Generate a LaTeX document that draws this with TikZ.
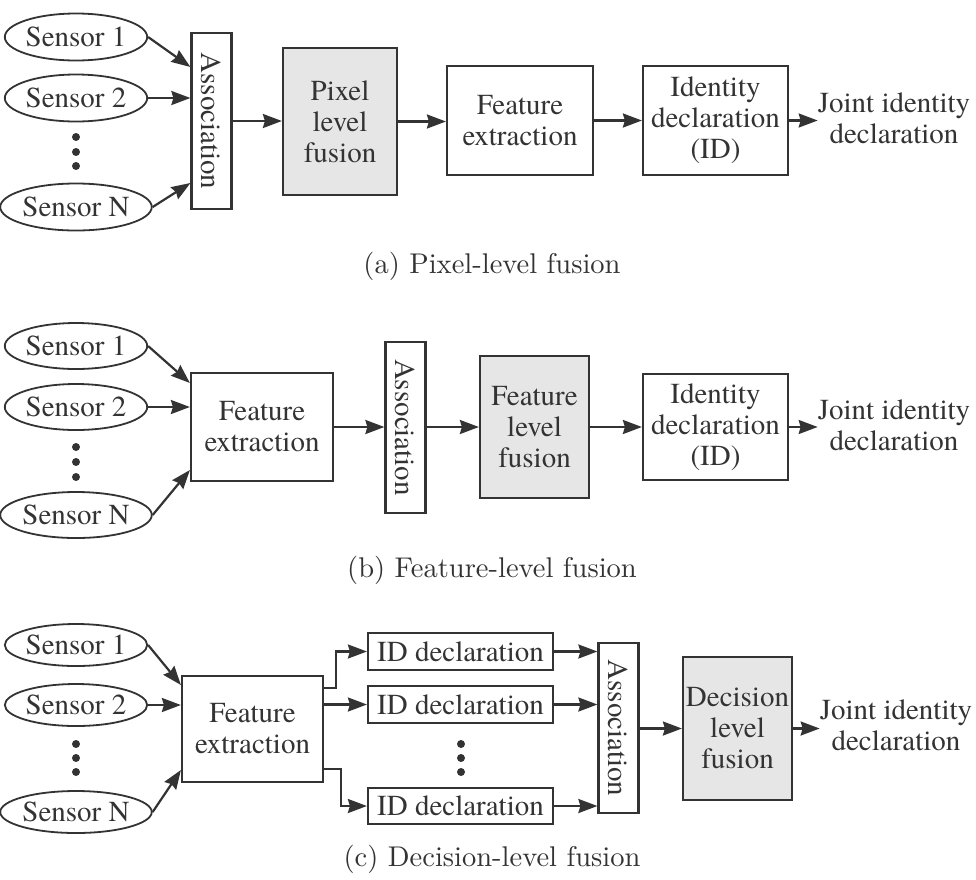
\documentclass[tikz,border=0pt]{standalone}
\usepackage{fontspec}
\newfontfamily\tnr{texgyretermes-regular.otf}
\newcommand\capfont{\fontencoding{TU}\fontfamily{lmr}\selectfont}
\usetikzlibrary{arrows.meta,shapes.geometric}
\definecolor{ink}{HTML}{333333}
\definecolor{fus}{HTML}{E6E6E6}
\tikzset{
  txt/.style={font=\tnr\fontsize{29pt}{31pt}\selectfont, text=ink, align=center, inner sep=0pt},
  box/.style={txt, draw=ink, line width=2.2pt, rectangle},
  fbox/.style={box, fill=fus},
  sens/.style={txt, draw=ink, line width=1.8pt, ellipse, minimum width=125pt},
  assoc/.style={box, rotate=-90, minimum height=40pt},
  arr/.style={draw=ink, line width=2.2pt, -{Stealth[length=19pt,width=14pt,inset=2pt]}},
  captxt/.style={font=\capfont\fontsize{10pt}{12pt}\selectfont, text=ink, inner sep=0pt, scale=2.85, transform shape},
}
\begin{document}
\begin{tikzpicture}[x=1pt,y=-1pt]
\useasboundingbox (0,0) rectangle (976,879);
% ---------------- (a) ----------------
\node[sens, minimum height=47pt] (s1a) at (76,37) {Sensor 1};
\node[sens, minimum height=47pt] (s2a) at (76,98) {Sensor 2};
\node[sens, minimum height=47pt] (sna) at (76,207) {Sensor N};
\foreach \yy in {137,152,166} \fill[ink] (76,\yy) circle[radius=4pt];
\node[assoc, minimum width=176pt] (asa) at (211.5,121) {Association};
\node[fbox, minimum width=114pt, minimum height=147pt] (pxa) at (340,121.5) {Pixel\\level\\fusion};
\node[box, minimum width=146pt, minimum height=109pt] (fea) at (520,120.5) {Feature\\extraction};
\node[box, minimum width=145pt, minimum height=109pt] (ida) at (715.5,120.5) {Identity\\declaration\\(ID)};
\node[txt] (ja) at (894,118) {Joint identity\\declaration};
\draw[arr] (s1a.east) -- ([yshift=54pt]asa.south);
\draw[arr] (s2a.east) -- (s2a.east -| asa.south);
\draw[arr] (sna.east) -- ([yshift=-62pt]asa.south);
\draw[arr] (asa.north) -- (asa.north -| pxa.west);
\draw[arr] (pxa.east) -- (pxa.east -| fea.west);
\draw[arr] (fea.east) -- (fea.east -| ida.west);
\draw[arr] (ida.east) -- (ida.east -| ja.west);
\node[captxt, anchor=base] (capa) at (492,273) {(a) Pixel-level fusion};
% ---------------- (b) ----------------
\node[sens, minimum height=46pt] (s1b) at (76,346) {Sensor 1};
\node[sens, minimum height=46pt] (s2b) at (76,407) {Sensor 2};
\node[sens, minimum height=46pt] (snb) at (76,515) {Sensor N};
\foreach \yy in {447,462,477} \fill[ink] (76,\yy) circle[radius=4pt];
\node[box, minimum width=142pt, minimum height=108pt] (feb) at (262,427) {Feature\\extraction};
\node[assoc, minimum width=171pt] (asb) at (405.5,427.5) {Association};
\node[fbox, minimum width=109pt, minimum height=142pt] (fub) at (534.5,427) {Feature\\level\\fusion};
\node[box, minimum width=145pt, minimum height=106pt] (idb) at (715.5,427) {Identity\\declaration\\(ID)};
\node[txt] (jb) at (894,425) {Joint identity\\declaration};
\draw[arr] (s1b.east) -- ([yshift=44pt]feb.west);
\draw[arr] (s2b.east) -- (s2b.east -| feb.west);
\draw[arr] (snb.east) -- ([yshift=-43pt]feb.west);
\draw[arr] (feb.east) -- (feb.east -| asb.south);
\draw[arr] (asb.north |- feb.east) -- (feb.east -| fub.west);
\draw[arr] (fub.east) -- (fub.east -| idb.west);
\draw[arr] (idb.east) -- (idb.east -| jb.west);
\node[captxt, anchor=base] (capb) at (492,577) {(b) Feature-level fusion};
% ---------------- (c) ----------------
\node[sens, minimum height=42pt] (s1c) at (76,645) {Sensor 1};
\node[sens, minimum height=42pt] (s2c) at (76,705) {Sensor 2};
\node[sens, minimum height=42pt] (snc) at (76,812) {Sensor N};
\foreach \yy in {744,758,772} \fill[ink] (76,\yy) circle[radius=4pt];
\node[box, minimum width=141pt, minimum height=106pt] (fec) at (252.5,729) {Feature\\extraction};
\node[box, minimum width=185pt, minimum height=37pt] (id1) at (460.5,651.5) {ID declaration};
\node[box, minimum width=185pt, minimum height=37pt] (id2) at (460.5,704.5) {ID declaration};
\node[box, minimum width=185pt, minimum height=36pt] (id3) at (460.5,806) {ID declaration};
\foreach \yy in {744,758,772} \fill[ink] (461,\yy) circle[radius=4pt];
\node[assoc, minimum width=170pt] (asc) at (618.5,728) {Association};
\node[fbox, minimum width=109pt, minimum height=143pt] (dec) at (737.5,728.5) {Decision\\level\\fusion};
\node[txt] (jc) at (896,725) {Joint identity\\declaration};
\draw[arr] (s1c.east) -- ([yshift=44pt]fec.west);
\draw[arr] (s2c.east) -- (s2c.east -| fec.west);
\draw[arr] (snc.east) -- ([yshift=-41pt]fec.west);
\draw[arr] ([yshift=41pt]fec.east) -- ++(12,0) |- (id1.west);
\draw[arr] (fec.east |- id2.west) -- (id2.west);
\draw[arr] ([yshift=-40pt]fec.east) -- ++(17,0) |- (id3.west);
\draw[arr] (id1.east) -- (id1.east -| asc.south);
\draw[arr] (id2.east) -- (id2.east -| asc.south);
\draw[arr] (id3.east) -- (id3.east -| asc.south);
\draw[arr] (asc.north |- dec.west) -- (dec.west);
\draw[arr] (dec.east) -- (dec.east -| jc.west);
\node[captxt, anchor=base] (capc) at (492,866) {(c) Decision-level fusion};
\end{tikzpicture}
\end{document}
